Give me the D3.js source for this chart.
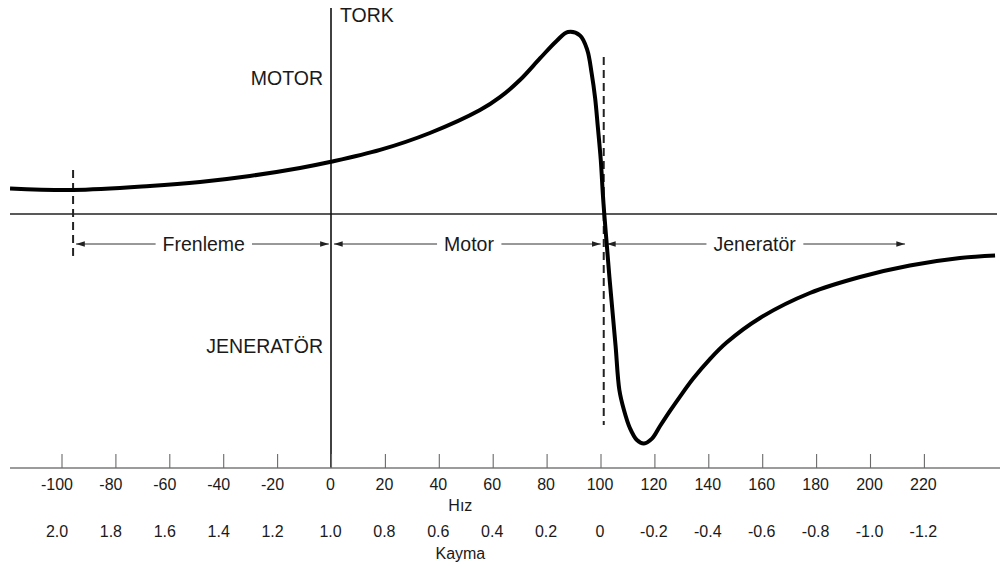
<!DOCTYPE html>
<html lang="tr">
<head>
    <meta charset="UTF-8">
    <title>Tork - Hız Eğrisi</title>
    <script src="https://d3js.org/d3.v7.min.js"></script>
    <style>
        body { margin: 0; background: #fff; overflow: hidden; }
        svg { display: block; }
        text { font-family: "Liberation Sans", Arial, sans-serif; fill: #1a1a1a; }
    </style>
</head>
<body>
    <svg width="1000" height="568"></svg>
    <script>
        // speed (%) and torque (per unit of peak motor torque)
        const speed = [-119.1, -95.7, -67.2, -48.6, -30.1, -11.5, 0, 18.2, 36.7, 55.3, 62.7, 70.1, 77.6, 83.7, 87.9,
            92.4, 95.1, 96.7, 98.0, 99.0, 100.1, 100.85, 101.4, 102.4, 103.3, 104.4, 105.6, 107.0, 108.7, 110.9,
            113.5, 116.1, 119.1, 122.1, 125.8, 129.5, 134.4, 140.6, 146.8, 159.2, 177.7, 196.3, 214.8, 233.4, 246.4];
        const torque = [0.140, 0.132, 0.154, 0.176, 0.209, 0.253, 0.287, 0.352, 0.445, 0.571, 0.642, 0.736, 0.856, 0.951, 1.0,
            0.981, 0.901, 0.775, 0.637, 0.480, 0.297, 0.114, 0, -0.181, -0.345, -0.527, -0.725, -0.967, -1.077, -1.176,
            -1.242, -1.261, -1.234, -1.165, -1.082, -1.003, -0.904, -0.797, -0.706, -0.571, -0.434, -0.346, -0.283, -0.242, -0.228];

        const speedTicks = [-100, -80, -60, -40, -20, 0, 20, 40, 60, 80, 100, 120, 140, 160, 180, 200, 220];
        const slipLabels = ["2.0", "1.8", "1.6", "1.4", "1.2", "1.0", "0.8", "0.6", "0.4", "0.2", "0",
            "-0.2", "-0.4", "-0.6", "-0.8", "-1.0", "-1.2"];

        // operating regions along the arrow row
        const regionNames = ["Frenleme", "Motor", "Jeneratör"];
        const regionStart = [-94.6, 1.1, 102.4];
        const regionEnd = [-0.8, 100.1, 213];
        const regionMid = [-47.2, 51.2, 157.2];

        // dashed markers: speed, torque at top and bottom
        const dashSpeed = [-95.7, 101.2];
        const dashTop = [0.242, 0.863];
        const dashBottom = [-0.231, -1.159];

        const svg = d3.select("svg");

        const x = d3.scaleLinear().domain([-100, 220]).range([61.5, 923.9]);
        const y = d3.scaleLinear().domain([0, 1]).range([214, 32]);

        const axisY = 468;
        const arrowY = 244;

        // arrow markers
        const defs = svg.append("defs");
        defs.append("marker")
            .attr("id", "arrow")
            .attr("viewBox", "0 -4 10 8")
            .attr("refX", 10)
            .attr("refY", 0)
            .attr("markerUnits", "userSpaceOnUse")
            .attr("markerWidth", 9)
            .attr("markerHeight", 7)
            .attr("orient", "auto-start-reverse")
            .append("path")
            .attr("d", "M0,-3.2L10,0L0,3.2Z")
            .attr("fill", "#222");

        // zero torque line
        svg.append("line")
            .attr("x1", 10).attr("x2", 997)
            .attr("y1", y(0)).attr("y2", y(0))
            .attr("stroke", "#222")
            .attr("stroke-width", 1.4);

        // vertical torque axis
        svg.append("line")
            .attr("x1", x(0)).attr("x2", x(0))
            .attr("y1", 8).attr("y2", axisY)
            .attr("stroke", "#111")
            .attr("stroke-width", 1.6);

        // bottom axis line
        svg.append("line")
            .attr("x1", 10).attr("x2", 1000)
            .attr("y1", axisY).attr("y2", axisY)
            .attr("stroke", "#7a7a7a")
            .attr("stroke-width", 1.6);

        // speed axis (ticks point up)
        const speedAxis = svg.append("g")
            .attr("transform", `translate(0,${axisY})`)
            .call(d3.axisBottom(x)
                .tickValues(speedTicks)
                .tickSize(-14)
                .tickSizeOuter(0)
                .tickPadding(10.5)
                .tickFormat(d => d));
        speedAxis.select(".domain").remove();
        speedAxis.selectAll(".tick line").attr("stroke", "#6a6a6a").attr("stroke-width", 1.1);
        speedAxis.selectAll(".tick text")
            .attr("font-family", "Liberation Sans, Arial, sans-serif")
            .attr("font-size", 16)
            .attr("fill", "#1a1a1a")
            .attr("dx", d => d < 0 ? -5 : -1);

        // slip labels
        const slipAxis = svg.append("g")
            .attr("transform", `translate(0,520)`)
            .call(d3.axisBottom(x)
                .tickValues(speedTicks)
                .tickSize(0)
                .tickPadding(6)
                .tickFormat((d, i) => slipLabels[i]));
        slipAxis.select(".domain").remove();
        slipAxis.selectAll(".tick text")
            .attr("font-family", "Liberation Sans, Arial, sans-serif")
            .attr("font-size", 16)
            .attr("fill", "#1a1a1a")
            .attr("dx", d => d < 0 ? -5 : -1);

        svg.append("text")
            .attr("x", x(48)).attr("y", 510.7)
            .attr("text-anchor", "middle")
            .attr("font-size", 16)
            .text("Hız");

        svg.append("text")
            .attr("x", x(48)).attr("y", 559)
            .attr("text-anchor", "middle")
            .attr("font-size", 16)
            .text("Kayma");

        // dashed lines
        svg.selectAll(".dash")
            .data(dashSpeed)
            .enter().append("line")
            .attr("class", "dash")
            .attr("x1", d => x(d)).attr("x2", d => x(d))
            .attr("y1", (d, i) => y(dashTop[i]))
            .attr("y2", (d, i) => y(dashBottom[i]))
            .attr("stroke", "#222")
            .attr("stroke-width", 2)
            .attr("stroke-dasharray", "8,5");

        // region arrows
        const region = svg.selectAll(".region")
            .data(regionNames)
            .enter().append("g")
            .attr("class", "region");

        region.append("line")
            .attr("x1", (d, i) => x(regionStart[i]))
            .attr("x2", (d, i) => x(regionEnd[i]))
            .attr("y1", arrowY).attr("y2", arrowY)
            .attr("stroke", "#333")
            .attr("stroke-width", 1)
            .attr("marker-start", "url(#arrow)")
            .attr("marker-end", "url(#arrow)");

        const regionBg = region.append("rect").attr("fill", "#fff");

        const regionText = region.append("text")
            .attr("x", (d, i) => x(regionMid[i]))
            .attr("y", arrowY + 7)
            .attr("text-anchor", "middle")
            .attr("font-size", 19.5)
            .text(d => d);

        regionText.each(function (d, i) {
            const b = this.getBBox();
            d3.select(regionBg.nodes()[i])
                .attr("x", b.x - 7).attr("width", b.width + 14)
                .attr("y", arrowY - 3).attr("height", 6);
        });

        // torque curve
        const pts = speed.map((s, i) => [s, torque[i]]);
        svg.append("path")
            .datum(pts)
            .attr("fill", "none")
            .attr("stroke", "#000")
            .attr("stroke-width", 4)
            .attr("stroke-linejoin", "round")
            .attr("d", d3.line()
                .x(d => x(d[0]))
                .y(d => y(d[1]))
                .curve(d3.curveCatmullRom.alpha(0.5)));

        // quadrant labels
        svg.append("text")
            .attr("x", x(0) + 9).attr("y", 21.7)
            .attr("font-size", 19.5)
            .text("TORK");

        svg.append("text")
            .attr("x", x(0) - 8).attr("y", 85)
            .attr("text-anchor", "end")
            .attr("font-size", 19.5)
            .text("MOTOR");

        svg.append("text")
            .attr("x", x(0) - 8).attr("y", 353.3)
            .attr("text-anchor", "end")
            .attr("font-size", 19.5)
            .text("JENERATÖR");
    </script>
</body>
</html>
